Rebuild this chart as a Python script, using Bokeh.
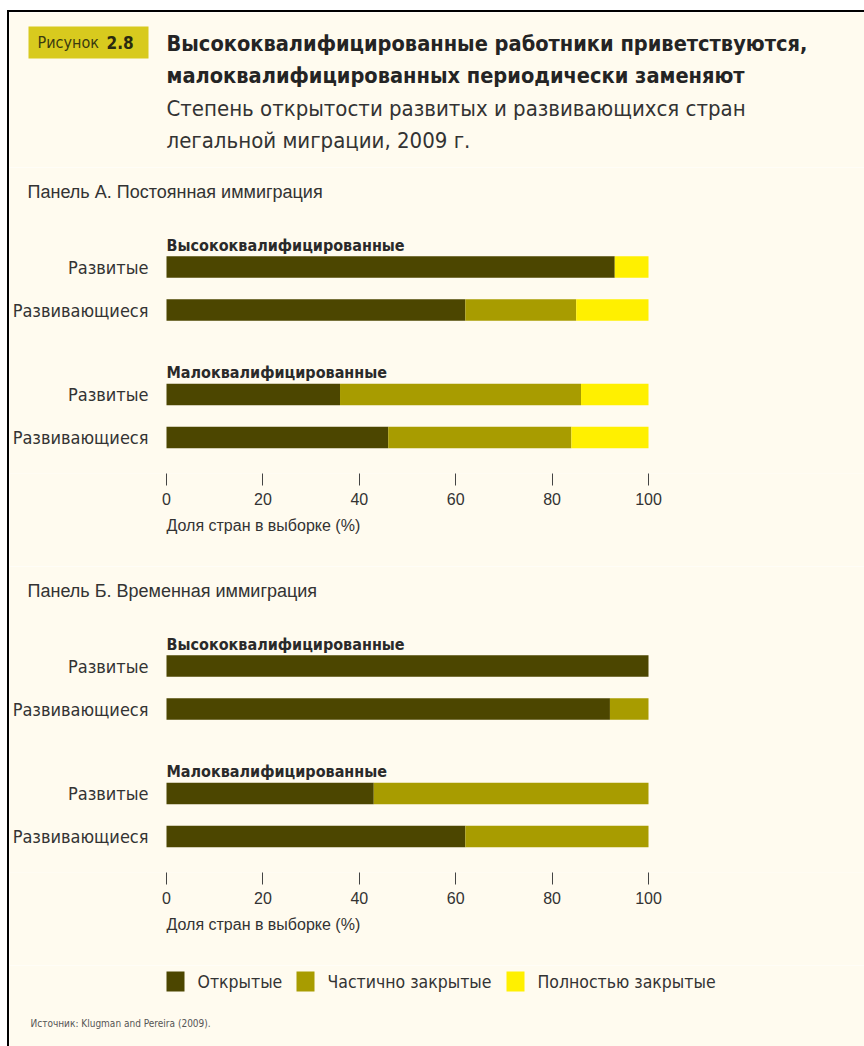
from bokeh.plotting import figure
from bokeh.models import Range1d, FixedTicker, ColumnDataSource, Title
from bokeh.layouts import column
from bokeh.embed import file_html
from bokeh.resources import INLINE
from bokeh.core.properties import value

# ---------------- data ----------------
series_names = ["Открытые", "Частично закрытые", "Полностью закрытые"]
series_colors = ["#4c4600", "#a89c00", "#fff000"]
groups = ["Высококвалифицированные", "Малоквалифицированные"]
country_types = ["Развитые", "Развивающиеся"]
x_ticks = [0, 20, 40, 60, 80, 100]

# Panel A: permanent immigration (order: high/developed, high/developing, low/developed, low/developing)
a_open = [93, 62, 36, 46]
a_partial = [0, 23, 50, 38]
a_full = [7, 15, 14, 16]
# Panel B: temporary immigration
b_open = [100, 92, 43, 62]
b_partial = [0, 8, 57, 38]
b_full = [0, 0, 0, 0]

panel_titles = ["Панель А. Постоянная иммиграция", "Панель Б. Временная иммиграция"]
x_axis_title = "Доля стран в выборке (%)"
fig_badge = ["Рисунок", "2.8"]
title_lines = ["Высококвалифицированные работники приветствуются,",
               "малоквалифицированных периодически заменяют"]
subtitle_lines = ["Степень открытости развитых и развивающихся стран",
                  "легальной миграции, 2009 г."]
source_text = "Источник:  Klugman and Pereira (2009)."

# ---------------- style / layout ----------------
BG = "#fffbef"
NARROW = "DejaVu Sans Condensed, Roboto, sans-serif"
SANS = "Liberation Sans"
TXT = "#333333"
W = 855
PX_PER_UNIT = 4.82      # pixels per percentage point
ZERO_X = 157            # canvas x of 0 %
ROW_PX = 43.0
GROUP_GAP = 1.965       # distance (rows) between last bar of a group and first bar of next
FIRST_ROW_Y = 99.5
FRAME_BOTTOM = 306
PANEL_H = 399
HEADER_H = 155
FOOTER_H = 81


def canvas_fig(h):
    p = figure(width=W, height=h, x_range=Range1d(0, W), y_range=Range1d(h, 0),
               min_border=0, toolbar_location=None, output_backend="svg",
               x_axis_location=None, y_axis_location=None,
               background_fill_color=BG, border_fill_color=BG, outline_line_color=None)
    p.xgrid.visible = False
    p.ygrid.visible = False
    return p


def px_to_x(px):
    return (px - ZERO_X) / PX_PER_UNIT


def px_to_row(py):
    return (py - FIRST_ROW_Y) / ROW_PX


def panel(title, opens, partials, fulls):
    rows, labels, group_rows = [], [], []
    for gi in range(len(groups)):
        base = gi * (len(country_types) - 1 + GROUP_GAP)
        group_rows.append(base)
        for ci in range(len(country_types)):
            rows.append(base + ci)
            labels.append(country_types[ci])
    p = figure(width=W, height=PANEL_H,
               x_range=Range1d(px_to_x(0), px_to_x(W)),
               y_range=Range1d(px_to_row(FRAME_BOTTOM), px_to_row(0)),
               min_border_left=0, min_border_right=0, min_border_top=0,
               min_border_bottom=PANEL_H - FRAME_BOTTOM,
               y_axis_location=None,
               toolbar_location=None, output_backend="svg",
               background_fill_color=BG, border_fill_color=BG, outline_line_color=None)
    p.xgrid.visible = False
    p.ygrid.visible = False

    src = ColumnDataSource(dict(row=rows, open=opens, partial=partials, full=fulls))
    p.hbar_stack(["open", "partial", "full"], y="row", height=0.5, source=src,
                 fill_color=series_colors, line_color=None)

    # x axis
    xa = p.xaxis[0]
    xa.ticker = FixedTicker(ticks=x_ticks)
    xa.axis_line_color = None
    xa.minor_tick_line_color = None
    xa.major_tick_in = 0
    xa.major_tick_out = 12
    xa.major_tick_line_color = "#444444"
    xa.major_label_standoff = 7
    xa.major_label_text_font = SANS
    xa.major_label_text_font_size = "16px"
    xa.major_label_text_color = TXT

    # axis title below the axis, left aligned with 0
    p.add_layout(Title(text=x_axis_title, align="left", offset=ZERO_X, standoff=15,
                       text_font=SANS, text_font_size="16px", text_font_style="normal",
                       text_color=TXT), "below")

    # category labels (left of bars)
    p.text(x=[px_to_x(139)] * len(rows), y=rows, text=labels, text_align="right",
           text_baseline="middle", text_font=value(NARROW), text_font_size="18px",
           text_color=TXT)
    # group labels
    p.text(x=[0] * len(groups), y=[r - 0.5 for r in group_rows], text=groups,
           text_baseline="middle", text_font=value(NARROW), text_font_style="bold",
           text_font_size="16px", text_color="#2a2a2a")
    # panel title
    p.text(x=[px_to_x(18)], y=[px_to_row(24)], text=[title], text_baseline="middle",
           text_font=value(SANS), text_font_size="18px", text_color=TXT)
    return p


# ---------------- header ----------------
hdr = canvas_fig(HEADER_H)
hdr.quad(left=19, right=139, top=14, bottom=46, fill_color="#d8ca1e", line_color=None)
hdr.text(x=[28], y=[30], text=[fig_badge[0]], text_font=value(NARROW), text_font_size="16px",
         text_baseline="middle", text_color="#3a3a10")
hdr.text(x=[97], y=[30], text=[fig_badge[1]], text_font=value(NARROW), text_font_size="17px",
         text_font_style="bold", text_baseline="middle", text_color="#2a2a10")
hdr.text(x=[157, 157], y=[31, 63], text=title_lines, text_font=value(NARROW),
         text_font_size="21.6px", text_font_style="bold", text_baseline="middle",
         text_color="#242424")
hdr.text(x=[157, 157], y=[96, 128], text=subtitle_lines, text_font=value(NARROW),
         text_font_size="22px", text_baseline="middle", text_color=TXT)

pa = panel(panel_titles[0], a_open, a_partial, a_full)
pb = panel(panel_titles[1], b_open, b_partial, b_full)

# ---------------- footer: legend + source ----------------
ftr = canvas_fig(FOOTER_H)
legend_x = [157, 287, 497]
ftr.quad(left=legend_x, right=[x + 18 for x in legend_x], top=6, bottom=26,
         fill_color=series_colors, line_color=None)
ftr.text(x=[x + 31 for x in legend_x], y=[16] * 3, text=series_names,
         text_font=value(NARROW), text_font_size="17.5px", text_baseline="middle",
         text_color=TXT)
ftr.text(x=[21], y=[58], text=[source_text], text_font=value(NARROW), text_font_size="10px",
         text_baseline="middle", text_color="#555555")

layout = column(hdr, pa, pb, ftr,
                styles={"border-left": "2px solid #000", "border-top": "2px solid #000",
                        "margin-left": "7px", "margin-top": "10px"})

open("out.html", "w").write(file_html(layout, INLINE))
